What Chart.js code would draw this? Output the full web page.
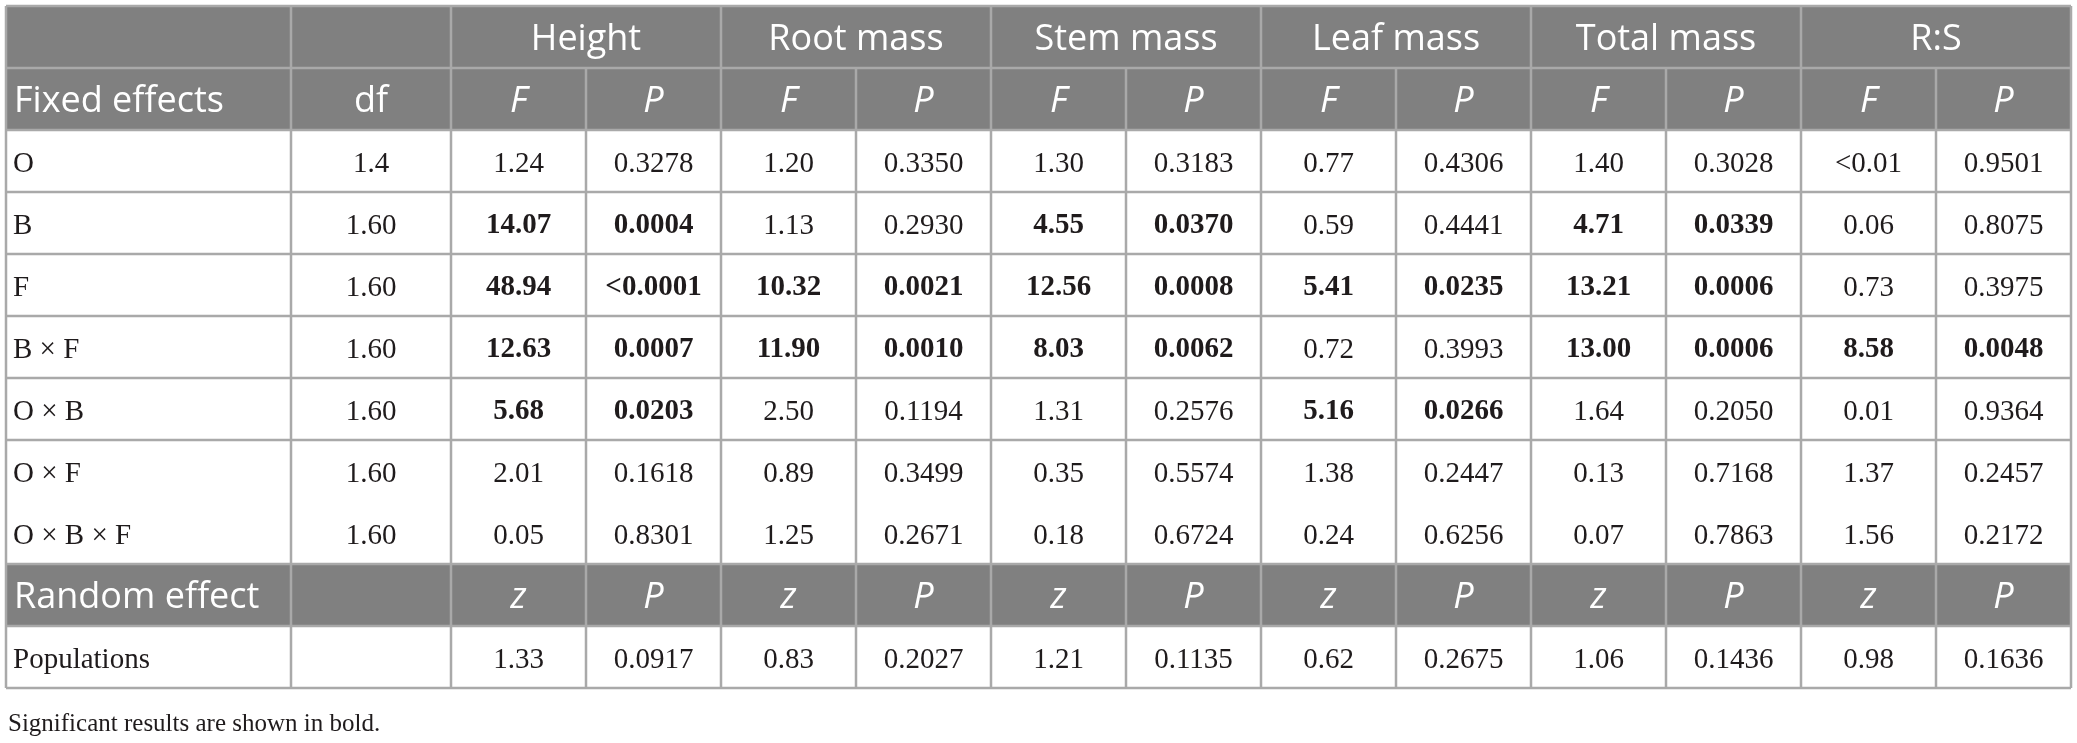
<!DOCTYPE html>
<html>
<head>
<meta charset="utf-8">
<script src="https://cdn.jsdelivr.net/npm/chart.js@4.4.1/dist/chart.umd.min.js"></script>
<style>
html, body { margin: 0; padding: 0; background: #fff; }
</style>
</head>
<body>
<canvas id="tabla" width="2077" height="743"></canvas>
<script>
// datos de la tabla
const groups = ['Height', 'Root mass', 'Stem mass', 'Leaf mass', 'Total mass', 'R:S'];
const fixedEffects = ['O', 'B', 'F', 'B \u00d7 F', 'O \u00d7 B', 'O \u00d7 F', 'O \u00d7 B \u00d7 F'];
const dfValues = ['1.4', '1.60', '1.60', '1.60', '1.60', '1.60', '1.60'];

const heightF = ['1.24', '14.07', '48.94', '12.63', '5.68', '2.01', '0.05'];
const heightP = ['0.3278', '0.0004', '<0.0001', '0.0007', '0.0203', '0.1618', '0.8301'];
const rootF = ['1.20', '1.13', '10.32', '11.90', '2.50', '0.89', '1.25'];
const rootP = ['0.3350', '0.2930', '0.0021', '0.0010', '0.1194', '0.3499', '0.2671'];
const stemF = ['1.30', '4.55', '12.56', '8.03', '1.31', '0.35', '0.18'];
const stemP = ['0.3183', '0.0370', '0.0008', '0.0062', '0.2576', '0.5574', '0.6724'];
const leafF = ['0.77', '0.59', '5.41', '0.72', '5.16', '1.38', '0.24'];
const leafP = ['0.4306', '0.4441', '0.0235', '0.3993', '0.0266', '0.2447', '0.6256'];
const totalF = ['1.40', '4.71', '13.21', '13.00', '1.64', '0.13', '0.07'];
const totalP = ['0.3028', '0.0339', '0.0006', '0.0006', '0.2050', '0.7168', '0.7863'];
const rsF = ['<0.01', '0.06', '0.73', '8.58', '0.01', '1.37', '1.56'];
const rsP = ['0.9501', '0.8075', '0.3975', '0.0048', '0.9364', '0.2457', '0.2172'];

const randomEffect = 'Populations';
const randomZ = ['1.33', '0.83', '1.21', '0.62', '1.06', '0.98'];
const randomP = ['0.0917', '0.2027', '0.1135', '0.2675', '0.1436', '0.1636'];

const footnote = 'Significant results are shown in bold.';

const fCols = [heightF, rootF, stemF, leafF, totalF, rsF];
const pCols = [heightP, rootP, stemP, leafP, totalP, rsP];

// medidas (unidades de las escalas)
const colEdges = [6, 291, 451, 586, 721, 856, 991, 1126, 1261, 1396, 1531, 1666, 1801, 1936, 2071];
const tableTop = 6;
const rowH = 62;
const nRows = 11;
const headerBg = '#808080';
const lineColor = '#a9a9a9';
const sans = '"Open Sans", sans-serif';
const serif = '"Liberation Serif", serif';
const bodySize = '29px ';

function isSignificant(p) {
    return parseFloat(p.replace('<', '')) < 0.05;
}

const tablePlugin = {
    id: 'tabla',
    afterDraw(chart) {
        const ctx = chart.ctx;
        const xs = chart.scales.x;
        const ys = chart.scales.y;
        const X = v => xs.getPixelForValue(v);
        const Y = v => ys.getPixelForValue(v);
        const rowTop = r => tableTop + r * rowH;
        const left = colEdges[0], right = colEdges[colEdges.length - 1];

        ctx.save();
        // filas grises
        [0, 1, 9].forEach(r => {
            ctx.fillStyle = headerBg;
            ctx.fillRect(X(left), Y(rowTop(r)), X(right) - X(left), Y(rowTop(r + 1)) - Y(rowTop(r)));
        });

        function text(str, x, r, font, color, align) {
            ctx.font = font;
            ctx.fillStyle = color;
            ctx.textAlign = align;
            ctx.textBaseline = 'middle';
            ctx.fillText(str, X(x), Y(rowTop(r) + rowH / 2 + 3));
        }
        const colMid = c => (colEdges[c] + colEdges[c + 1]) / 2;

        // cabeceras
        groups.forEach((g, i) => {
            const x = (colEdges[2 + 2 * i] + colEdges[4 + 2 * i]) / 2;
            text(g, x, 0, '36px ' + sans, '#fff', 'center');
        });
        text('Fixed effects', left + 8, 1, '36px ' + sans, '#fff', 'left');
        text('df', colMid(1), 1, '36px ' + sans, '#fff', 'center');
        text('Random effect', left + 8, 9, '36px ' + sans, '#fff', 'left');
        groups.forEach((g, i) => {
            text('F', colMid(2 + 2 * i), 1, 'italic 36px ' + sans, '#fff', 'center');
            text('P', colMid(3 + 2 * i), 1, 'italic 36px ' + sans, '#fff', 'center');
            text('z', colMid(2 + 2 * i), 9, 'italic 36px ' + sans, '#fff', 'center');
            text('P', colMid(3 + 2 * i), 9, 'italic 36px ' + sans, '#fff', 'center');
        });

        // efectos fijos
        fixedEffects.forEach((e, k) => {
            const r = 2 + k;
            text(e, left + 7, r, bodySize + serif, '#1f1b1c', 'left');
            text(dfValues[k], colMid(1), r, bodySize + serif, '#1f1b1c', 'center');
            for (let g = 0; g < groups.length; g++) {
                const bold = isSignificant(pCols[g][k]);
                const f = (bold ? 'bold ' : '') + bodySize + serif;
                text(fCols[g][k], colMid(2 + 2 * g), r, f, '#1f1b1c', 'center');
                text(pCols[g][k], colMid(3 + 2 * g), r, f, '#1f1b1c', 'center');
            }
        });

        // efecto aleatorio
        text(randomEffect, left + 7, 10, bodySize + serif, '#1f1b1c', 'left');
        for (let g = 0; g < groups.length; g++) {
            const bold = isSignificant(randomP[g]);
            const f = (bold ? 'bold ' : '') + bodySize + serif;
            text(randomZ[g], colMid(2 + 2 * g), 10, f, '#1f1b1c', 'center');
            text(randomP[g], colMid(3 + 2 * g), 10, f, '#1f1b1c', 'center');
        }

        // lineas
        ctx.strokeStyle = lineColor;
        ctx.lineWidth = 2.5;
        ctx.beginPath();
        for (let k = 0; k <= nRows; k++) {
            if (k === 8) continue; // sin linea entre O x F y O x B x F
            ctx.moveTo(X(left), Y(rowTop(k)));
            ctx.lineTo(X(right), Y(rowTop(k)));
        }
        colEdges.forEach((x, c) => {
            // la primera fila agrupa dos columnas
            const start = (c >= 3 && c % 2 === 1) ? 1 : 0;
            ctx.moveTo(X(x), Y(rowTop(start)));
            ctx.lineTo(X(x), Y(rowTop(nRows)));
        });
        ctx.stroke();

        // nota
        ctx.font = '25px ' + serif;
        ctx.fillStyle = '#1f1b1c';
        ctx.textAlign = 'left';
        ctx.textBaseline = 'middle';
        ctx.fillText(footnote, X(8), Y(724));
        ctx.restore();
    }
};

const grafica = document.getElementById('tabla').getContext('2d');
const tabla = new Chart(grafica, {
    type: 'scatter',
    data: { datasets: [] },
    options: {
        responsive: false,
        animation: false,
        devicePixelRatio: 1,
        events: [],
        layout: { padding: 0 },
        plugins: { legend: { display: false }, tooltip: { enabled: false } },
        scales: {
            x: { type: 'linear', min: 0, max: 2077, display: false },
            y: { type: 'linear', min: 0, max: 743, reverse: true, display: false }
        }
    },
    plugins: [tablePlugin]
});
</script>
</body>
</html>
